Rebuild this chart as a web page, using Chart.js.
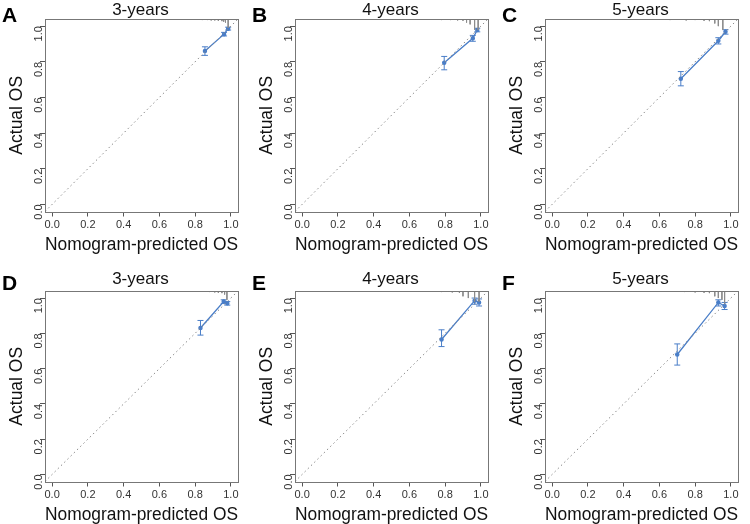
<!DOCTYPE html>
<html>
<head>
<meta charset="utf-8">
<script src="https://cdn.jsdelivr.net/npm/chart.js@4/dist/chart.umd.min.js"></script>
<style>
  body{ margin:0; background:#fff; font-family:"Liberation Sans", Arial, sans-serif; }
  #wrap{ position:relative; width:750px; height:524px; overflow:hidden; }
  .panel{ position:absolute; width:250px; }
  .letter{ position:absolute; font-size:21px; line-height:21px; font-weight:bold; color:#000; }
  .ttl{ position:absolute; left:43px; width:195px; text-align:center; font-size:17px; line-height:17px; color:#111; }
</style>
</head>
<body>
<div id="wrap"></div>
<script>
// axis range and ticks (R default extends 4% past 0..1)
const axisRange = [-0.04, 1.04];
const tickVals = [0, 0.2, 0.4, 0.6, 0.8, 1.0];
const idealLine = [-0.04, 1.04];

// panel A: 3-years
const predA = [0.855, 0.962, 0.985];
const obsA  = [0.860, 0.955, 0.986];
const loA   = [0.836, 0.945, 0.978];
const hiA   = [0.884, 0.965, 0.994];
const rugXA = [0.62, 0.74, 0.80, 0.84, 0.87, 0.89, 0.91, 0.93, 0.95, 0.96, 0.97, 0.985];
const rugHA = [0.004, 0.005, 0.005, 0.006, 0.006, 0.008, 0.008, 0.01, 0.012, 0.015, 0.02, 0.05];

// panel B: 4-years
const predB = [0.795, 0.955, 0.980];
const obsB  = [0.795, 0.932, 0.978];
const loB   = [0.755, 0.915, 0.968];
const hiB   = [0.830, 0.948, 0.988];
const rugXB = [0.60, 0.70, 0.78, 0.83, 0.87, 0.90, 0.92, 0.94, 0.965, 0.985];
const rugHB = [0.004, 0.005, 0.006, 0.006, 0.008, 0.01, 0.02, 0.03, 0.06, 0.06];

// panel C: 5-years
const predC = [0.720, 0.930, 0.970];
const obsC  = [0.705, 0.918, 0.968];
const loC   = [0.665, 0.900, 0.955];
const hiC   = [0.745, 0.935, 0.980];
const rugXC = [0.50, 0.60, 0.66, 0.75, 0.80, 0.85, 0.88, 0.91, 0.93, 0.955];
const rugHC = [0.004, 0.005, 0.006, 0.008, 0.006, 0.01, 0.012, 0.025, 0.04, 0.06];

// panel D: 3-years
const predD = [0.830, 0.960, 0.980];
const obsD  = [0.830, 0.980, 0.970];
const loD   = [0.790, 0.970, 0.960];
const hiD   = [0.873, 0.990, 0.980];
const rugXD = [0.70, 0.78, 0.84, 0.88, 0.91, 0.93, 0.95, 0.965, 0.978];
const rugHD = [0.004, 0.005, 0.005, 0.006, 0.008, 0.01, 0.012, 0.02, 0.05];

// panel E: 4-years
const predE = [0.780, 0.965, 0.990];
const obsE  = [0.765, 0.985, 0.975];
const loE   = [0.725, 0.965, 0.955];
const hiE   = [0.820, 1.000, 0.995];
const rugXE = [0.55, 0.65, 0.72, 0.78, 0.84, 0.88, 0.90, 0.93, 0.965, 0.99];
const rugHE = [0.004, 0.005, 0.005, 0.006, 0.008, 0.01, 0.03, 0.04, 0.06, 0.06];

// panel F: 5-years
const predF = [0.700, 0.930, 0.965];
const obsF  = [0.680, 0.975, 0.955];
const loF   = [0.620, 0.955, 0.935];
const hiF   = [0.740, 0.990, 0.975];
const rugXF = [0.50, 0.58, 0.66, 0.74, 0.80, 0.85, 0.88, 0.91, 0.93, 0.95, 0.965];
const rugHF = [0.004, 0.005, 0.005, 0.006, 0.008, 0.01, 0.012, 0.03, 0.04, 0.05, 0.07];

const panels = [
  {letter:"A", title:"3-years", col:0, row:0, pred:predA, obs:obsA, lo:loA, hi:hiA, rx:rugXA, rh:rugHA},
  {letter:"B", title:"4-years", col:1, row:0, pred:predB, obs:obsB, lo:loB, hi:hiB, rx:rugXB, rh:rugHB},
  {letter:"C", title:"5-years", col:2, row:0, pred:predC, obs:obsC, lo:loC, hi:hiC, rx:rugXC, rh:rugHC},
  {letter:"D", title:"3-years", col:0, row:1, pred:predD, obs:obsD, lo:loD, hi:hiD, rx:rugXD, rh:rugHD},
  {letter:"E", title:"4-years", col:1, row:1, pred:predE, obs:obsE, lo:loE, hi:hiE, rx:rugXE, rh:rugHE},
  {letter:"F", title:"5-years", col:2, row:1, pred:predF, obs:obsF, lo:loF, hi:hiF, rx:rugXF, rh:rugHF}
];

// per-row geometry
const rows = [
  {top:0,   height:262, padBottom:8.5, letterTop:4,  titleTop:0.5},
  {top:272, height:252, padBottom:0.5, letterTop:0,  titleTop:-2.5}
];

const BLUE = "rgb(74,126,200)";

// plot frame like R's box()
const boxPlugin = {
  id:"box",
  afterDraw(chart){
    const a = chart.chartArea, c = chart.ctx;
    c.save();
    c.strokeStyle = "#777";
    c.lineWidth = 1;
    c.strokeRect(Math.round(a.left)+0.5, Math.round(a.top)+0.5, Math.round(a.right-a.left), Math.round(a.bottom-a.top));
    c.restore();
  }
};

function axis(titleText, vertical){
  return {
    type:"linear",
    min:axisRange[0], max:axisRange[1],
    afterBuildTicks: s => { s.ticks = tickVals.map(v=>({value:v})); },
    ticks:{
      color:"#333", padding: vertical ? 1.5 : 3,
      font:{family:"Liberation Sans, Arial, sans-serif", size:11, lineHeight:1},
      callback: v => Number(v).toFixed(1),
      minRotation: vertical ? 90 : 0, maxRotation: vertical ? 90 : 0,
      autoSkip:false
    },
    grid:{display:true, drawOnChartArea:false, drawTicks:true, tickLength:5, color:"#555"},
    border:{display:false},
    title:{
      display:true, text:titleText, color:"#111",
      font:{family:"Liberation Sans, Arial, sans-serif", size:17.5, lineHeight:1},
      padding: vertical ? {top:8.5, bottom:0} : {top:2.5, bottom:0}
    }
  };
}

const wrap = document.getElementById("wrap");

panels.forEach(p=>{
  const r = rows[p.row];
  const div = document.createElement("div");
  div.className = "panel";
  div.style.left = (p.col*250) + "px";
  div.style.top = r.top + "px";
  div.style.height = r.height + "px";
  div.innerHTML = `<canvas></canvas>
    <div class="letter" style="left:2px;top:${r.letterTop}px">${p.letter}</div>
    <div class="ttl" style="top:${r.titleTop}px">${p.title}</div>`;
  wrap.appendChild(div);

  const diag = idealLine.map(v=>({x:v, y:v}));
  const rug = p.rx.flatMap((x,i)=>[{x, y:axisRange[1]}, {x, y:axisRange[1]-p.rh[i]}, {x, y:null}]);
  const err = p.pred.flatMap((x,i)=>[{x, y:p.lo[i]}, {x, y:p.hi[i]}, {x, y:null}]);
  const cal = p.pred.map((x,i)=>({x, y:p.obs[i]}));

  new Chart(div.querySelector("canvas"), {
    type:"scatter",
    data:{datasets:[
      {data:diag, showLine:true, borderColor:"#8a8a8a", borderWidth:1, borderDash:[1.5,3], pointRadius:0},
      {data:rug, showLine:true, spanGaps:false, borderColor:"#8c8c8c", borderWidth:1, pointRadius:0},
      {data:err, showLine:true, spanGaps:false, borderColor:BLUE, borderWidth:1,
        pointStyle:"line", pointRadius:3, pointBorderColor:BLUE, pointBorderWidth:1},
      {data:cal, showLine:true, borderColor:BLUE, borderWidth:1.3,
        pointRadius:1.6, pointBackgroundColor:BLUE, pointBorderColor:BLUE}
    ]},
    options:{
      responsive:true, maintainAspectRatio:false, animation:false,
      layout:{padding:{left:0, top:19, right:12, bottom:r.padBottom}},
      plugins:{legend:{display:false}, tooltip:{enabled:false}},
      scales:{ x:axis("Nomogram-predicted OS", false), y:axis("Actual OS", true) }
    },
    plugins:[boxPlugin]
  });
});
</script>
</body>
</html>
